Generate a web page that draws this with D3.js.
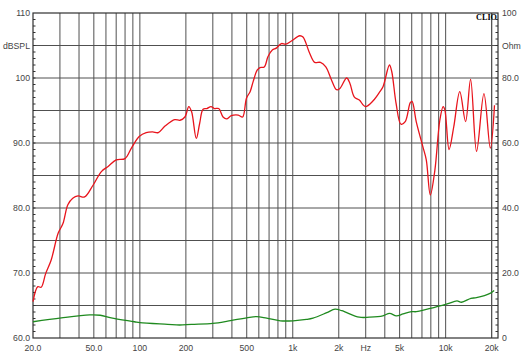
<!DOCTYPE html>
<html>
<head>
<meta charset="utf-8">
<script src="https://cdn.jsdelivr.net/npm/d3@7"></script>
<style>
  body { margin: 0; background: #fff; }
  svg { display: block; }
  text { font-family: "Liberation Sans", Arial, sans-serif; font-size: 8.7px; fill: #444; }
</style>
</head>
<body>
<svg width="530" height="364"></svg>
<script>
// SPL response (Hz, dB)
var splFreq = [20, 21.5, 22.6, 24.2, 26.3, 29.2, 31.4, 33.8, 36.4, 39.4, 43.5, 49.4, 56, 62, 70, 80, 88, 99,
	110, 121, 132, 146, 169, 183, 197, 209, 218, 234, 246, 259, 274, 292, 307, 328, 350, 369, 396, 440, 470,
	498, 526, 550, 585, 610, 651, 689, 735, 781, 843, 900, 980, 1110, 1167, 1290, 1392, 1518, 1645, 1792,
	1934, 2033, 2251, 2363, 2523, 2725, 2985, 3355, 3715, 3900, 4290, 4440, 4740, 5100, 5440, 5870, 6030,
	6420, 7100, 7470, 7940, 8500, 9160, 9630, 9880, 10530, 11300, 12370, 13500, 14560, 15930, 17800, 19600, 20870];
var splDb = [65.6, 67.9, 67.8, 69.9, 72.0, 76.1, 77.6, 80.5, 81.5, 81.85, 81.7, 83.5, 85.6, 86.4, 87.4, 87.6, 89.2, 91.0,
	91.6, 91.7, 91.6, 92.6, 93.6, 93.5, 94.0, 95.6, 94.8, 90.7, 93.0, 95.2, 95.3, 95.6, 95.3, 95.3, 94.0, 93.7, 94.2, 94.3, 94.0,
	96.9, 97.9, 99.4, 101.2, 101.6, 101.7, 103.3, 104.3, 104.6, 105.3, 105.2, 105.7, 106.5, 106.3, 103.8, 102.4, 102.4, 101.7, 99.7,
	98.2, 98.4, 100.0, 99.2, 97.1, 96.6, 95.6, 96.5, 97.9, 98.7, 102.0, 101.0, 96.1, 92.9, 93.3, 96.2, 96.4,
	93.3, 89.4, 87.4, 82.0, 85.8, 93.5, 95.6, 95.1, 89.0, 92.5, 97.9, 93.3, 99.8, 88.7, 97.6, 89.2, 95.8];

// impedance (Hz, Ohm)
var impFreq = [20, 30.7, 47, 55, 65, 92, 100, 152, 182, 217, 300, 375, 406, 499, 580, 676, 829, 1004, 1228, 1357,
	1670, 1891, 2093, 2725, 3165, 3880, 4300, 4760, 5270, 5980, 6420, 7950, 10230, 11860, 12700, 14630, 15900, 19660, 20760];
var impOhm = [5.0, 6.2, 7.1, 7.0, 6.2, 5.0, 4.7, 4.2, 4.0, 4.2, 4.5, 5.2, 5.5, 6.2, 6.6, 6.1, 5.3, 5.3, 5.7, 6.1,
	7.8, 8.9, 8.4, 6.4, 6.4, 6.8, 7.6, 6.8, 7.4, 8.1, 8.1, 9.1, 10.5, 11.4, 11.0, 12.2, 12.4, 13.8, 14.6];

// axis labels
var xTicks = [20, 50, 100, 200, 500, 1000, 2000, 3000, 5000, 10000, 20000];
var xLabels = ["20.0", "50.0", "100", "200", "500", "1k", "2k", "Hz", "5k", "10k", "20k"];
var leftTicks = [110, 105, 100, 90, 80, 70, 60];
var leftLabels = ["110", "dBSPL", "100", "90.0", "80.0", "70.0", "60.0"];
var rightTicks = [100, 90, 80, 60, 40, 20, 0];
var rightLabels = ["100", "Ohm", "80.0", "60.0", "40.0", "20.0", "0"];

var svg = d3.select("svg");

var x = d3.scaleLog().domain([20, 22000]).range([33, 498]);
var y = d3.scaleLinear().domain([60, 110]).range([338, 13]);
var yR = d3.scaleLinear().domain([0, 100]).range([338, 13]);

// vertical grid: 1-2-3..9 per decade
var vGrid = [];
[10, 100, 1000, 10000].forEach(function(dec) {
	for (var k = 1; k < 10; k++) {
		var f = dec * k;
		if (f > 20 && f <= 20000) vGrid.push(f);
	}
});
vGrid.push(20000);

svg.append("g").selectAll("line")
	.data(vGrid)
	.enter().append("line")
	.attr("x1", function(d) { return x(d); })
	.attr("x2", function(d) { return x(d); })
	.attr("y1", y(110))
	.attr("y2", y(60))
	.attr("stroke", "#505050")
	.attr("stroke-width", 1);

// horizontal grid every 5 dB
svg.append("g").selectAll("line")
	.data(d3.range(65, 110, 5))
	.enter().append("line")
	.attr("x1", x(20))
	.attr("x2", x(22000))
	.attr("y1", function(d) { return y(d); })
	.attr("y2", function(d) { return y(d); })
	.attr("stroke", "#505050")
	.attr("stroke-width", 1);

// minor ticks on both side axes
svg.append("g").selectAll("line")
	.data(d3.range(61, 110, 1))
	.enter().append("line")
	.attr("x1", x(20))
	.attr("x2", x(20) + 2.5)
	.attr("y1", function(d) { return y(d); })
	.attr("y2", function(d) { return y(d); })
	.attr("stroke", "#333");

svg.append("g").selectAll("line")
	.data(d3.range(2, 100, 2))
	.enter().append("line")
	.attr("x1", x(22000))
	.attr("x2", x(22000) - 2.5)
	.attr("y1", function(d) { return yR(d); })
	.attr("y2", function(d) { return yR(d); })
	.attr("stroke", "#333");

// frame
svg.append("rect")
	.attr("x", x(20))
	.attr("y", y(110))
	.attr("width", x(22000) - x(20))
	.attr("height", y(60) - y(110))
	.attr("fill", "none")
	.attr("stroke", "#303030")
	.attr("stroke-width", 1.2);

// curves
var line = d3.line().curve(d3.curveCatmullRom.alpha(0.5));

svg.append("path")
	.attr("d", line(impFreq.map(function(f, i) { return [x(f), yR(impOhm[i])]; })))
	.attr("fill", "none")
	.attr("stroke", "#1f8a1f")
	.attr("stroke-width", 1.3);

svg.append("path")
	.attr("d", line(splFreq.map(function(f, i) { return [x(f), y(splDb[i])]; })))
	.attr("fill", "none")
	.attr("stroke", "#e8141c")
	.attr("stroke-width", 1.3);

// labels
svg.append("g").selectAll("text")
	.data(xTicks)
	.enter().append("text")
	.attr("x", function(d) { return x(d); })
	.attr("y", 350.5)
	.attr("text-anchor", "middle")
	.text(function(d, i) { return xLabels[i]; });

svg.append("g").selectAll("text")
	.data(leftTicks)
	.enter().append("text")
	.attr("x", 30)
	.attr("y", function(d) { return y(d) + 3.2; })
	.attr("text-anchor", "end")
	.text(function(d, i) { return leftLabels[i]; });

svg.append("g").selectAll("text")
	.data(rightTicks)
	.enter().append("text")
	.attr("x", 502)
	.attr("y", function(d) { return yR(d) + 3.2; })
	.attr("text-anchor", "start")
	.text(function(d, i) { return rightLabels[i]; });

svg.append("text")
	.attr("x", 497)
	.attr("y", 19.5)
	.attr("text-anchor", "end")
	.style("font-family", "'Liberation Serif', 'Times New Roman', serif")
	.style("font-weight", "bold")
	.style("font-size", "8.2px")
	.style("fill", "#000")
	.text("CLIO");
</script>
</body>
</html>
